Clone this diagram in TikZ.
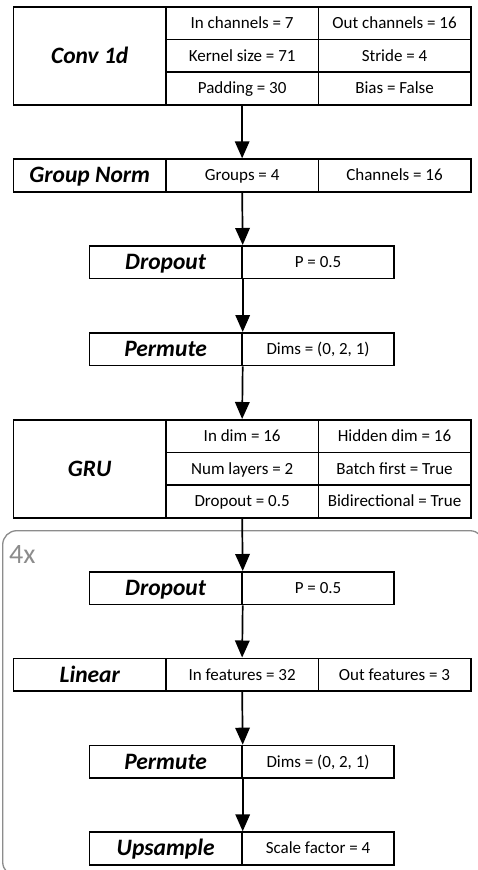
\documentclass[tikz,border=0pt]{standalone}
\usepackage{fontspec}
\setmainfont{Carlito}
\usetikzlibrary{arrows.meta}

\newcommand\lblfont{\fontsize{17}{19}\selectfont}
\newcommand\ttlfont{\fontsize{23.5}{25}\selectfont\bfseries\itshape}
\definecolor{loopgray}{HTML}{8C8C8C}

\tikzset{
  cell/.style={draw, line width=1.7pt, minimum width=152.4pt, minimum height=32.6pt,
               inner sep=0pt, anchor=north west, font=\lblfont,
               text height=11pt, text depth=0pt},
  ttl/.style={cell, font=\ttlfont, text height=15pt},
  tall/.style={minimum height=97.8pt},
  flow/.style={line width=1.7pt, -{Triangle[width=14.5pt,length=17pt]}},
  loopbox/.style={draw=loopgray, line width=1.3pt, rounded corners=14pt},
}

\begin{document}
\begin{tikzpicture}[x=1pt, y=-1pt]
\useasboundingbox (0,0) rectangle (478,870);

% repeated block frame
\draw[loopbox] (2.7,530.7) rectangle (484,876);
\node[anchor=base west, text=loopgray, inner sep=0pt,
      font=\fontsize{28}{30}\selectfont] (rep) at (9,563) {4x};

% Conv 1d
\node[ttl, tall] (conv) at (12.7,6) {Conv 1d};
\node[cell] (conv-a) at (165.1,6) {In channels = 7};
\node[cell] (conv-b) at (317.5,6) {Out channels = 16};
\node[cell] (conv-c) at (165.1,38.6) {Kernel size = 71};
\node[cell] (conv-d) at (317.5,38.6) {Stride = 4};
\node[cell] (conv-e) at (165.1,71.2) {Padding = 30};
\node[cell] (conv-f) at (317.5,71.2) {Bias = False};

% Group Norm
\node[ttl] (gn) at (12.7,158.3) {Group Norm};
\node[cell] (gn-a) at (165.1,158.3) {Groups = 4};
\node[cell] (gn-b) at (317.5,158.3) {Channels = 16};

% Dropout
\node[ttl] (dropA) at (88.6,245) {Dropout};
\node[cell] (dropA-a) at (241,245) {P = 0.5};

% Permute
\node[ttl] (permA) at (88.6,332) {Permute};
\node[cell] (permA-a) at (241,332) {Dims = (0, 2, 1)};

% GRU
\node[ttl, tall] (gru) at (12.7,419) {GRU};
\node[cell] (gru-a) at (165.1,419) {In dim = 16};
\node[cell] (gru-b) at (317.5,419) {Hidden dim = 16};
\node[cell] (gru-c) at (165.1,451.6) {Num layers = 2};
\node[cell] (gru-d) at (317.5,451.6) {Batch first = True};
\node[cell] (gru-e) at (165.1,484.2) {Dropout = 0.5};
\node[cell] (gru-f) at (317.5,484.2) {Bidirectional = True};

% Dropout (repeated part)
\node[ttl] (dropB) at (88.6,571) {Dropout};
\node[cell] (dropB-a) at (241,571) {P = 0.5};

% Linear
\node[ttl] (lin) at (12.7,657.5) {Linear};
\node[cell] (lin-a) at (165.1,657.5) {In features = 32};
\node[cell] (lin-b) at (317.5,657.5) {Out features = 3};

% Permute (repeated part)
\node[ttl] (permB) at (88.6,744.7) {Permute};
\node[cell] (permB-a) at (241,744.7) {Dims = (0, 2, 1)};

% Upsample
\node[ttl] (up) at (88.6,831.3) {Upsample};
\node[cell] (up-a) at (241,831.3) {Scale factor = 4};

% data flow
\draw[flow] (conv-e.south) -- (gn-a.north);
\draw[flow] (gn-a.south) -- (dropA.north east);
\draw[flow] (dropA.south east) -- (permA.north east);
\draw[flow] (permA.south east) -- (gru-a.north);
\draw[flow] (gru-e.south) -- (dropB.north east);
\draw[flow] (dropB.south east) -- (lin-a.north);
\draw[flow] (lin-a.south) -- (permB.north east);
\draw[flow] (permB.south east) -- (up.north east);
\end{tikzpicture}
\end{document}
